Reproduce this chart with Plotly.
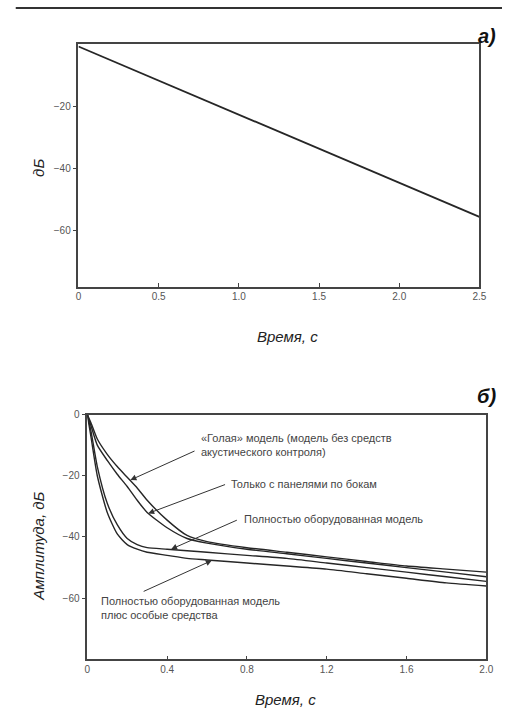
import plotly.graph_objects as go

# ---- data ----
t_a = [0.0, 2.5]
db_a = [-0.5, -55.5]
xticks_a = [0, 0.5, 1.0, 1.5, 2.0, 2.5]
xticklabels_a = ["0", "0.5", "1.0", "1.5", "2.0", "2.5"]
yticks_a = [-20, -40, -60]

t_b = [0, 0.02, 0.05, 0.1, 0.15, 0.2, 0.25, 0.3, 0.4, 0.5, 0.6, 0.8, 1.0, 1.2, 1.4, 1.6, 1.8, 2.0]
bare = [0, -3, -8, -13, -17, -20.5, -24, -28, -34.5, -39.5, -41.5, -43.5, -45, -46.5, -48, -49.5, -50.5, -51.5]
side_panels = [0, -4, -10, -15, -19.5, -23.5, -28, -32, -37, -40.5, -42, -44, -45.5, -47, -48.5, -50, -51.5, -53]
fully = [0, -6, -17, -29, -36, -40.5, -42.5, -43.5, -44, -44.5, -45, -46, -47, -48.5, -50, -51.5, -53, -54.5]
fully_plus = [0, -8, -20, -32, -39, -42.5, -44, -45, -46, -47, -47.5, -48.5, -49.5, -50.5, -52, -53.5, -55, -56]
xticks_b = [0, 0.4, 0.8, 1.2, 1.6, 2.0]
xticklabels_b = ["0", "0.4", "0.8", "1.2", "1.6", "2.0"]
yticks_b = [0, -20, -40, -60]

labels_b = [
    "«Голая» модель (модель без средств<br>акустического контроля)",
    "Только с панелями по бокам",
    "Полностью оборудованная модель",
    "Полностью оборудованная модель<br>плюс особые средства",
]
# arrow head (on curve), arrow tail, text anchor (left, middle) in data units
arrow_heads = [(0.216, -21.4), (0.305, -32.3), (0.42, -44.0), (0.624, -47.7)]
arrow_tails = [(0.545, -11.7), (0.698, -22.7), (0.757, -34.3), (0.275, -58.0)]
text_pos = [(0.56, -10.0), (0.71, -22.6), (0.775, -34.0), (0.06, -63.3)]

W, H = 509, 709
LINE = "#262626"
TICKC = "#555555"
FONT = "Liberation Sans Narrow, Arial Narrow, Liberation Sans, Arial, sans-serif"

fig = go.Figure()
fig.add_trace(go.Scatter(x=t_a, y=db_a, mode="lines", line=dict(color=LINE, width=1.8),
                         xaxis="x", yaxis="y", showlegend=False))
for ys in (bare, side_panels, fully, fully_plus):
    fig.add_trace(go.Scatter(x=t_b, y=ys, mode="lines", line=dict(color=LINE, width=1.4, shape="spline", smoothing=0.6),
                             xaxis="x2", yaxis="y2", showlegend=False))

def px(xp):
    return xp / W

def py(yp):
    return 1 - yp / H

axis_common = dict(showline=True, linecolor="#444444", linewidth=1.5, mirror=True,
                   showgrid=False, zeroline=False,
                   tickfont=dict(family="Liberation Sans, Arial, sans-serif", size=10, color=TICKC),
                   tickcolor="#444444", ticklen=4)

fig.update_layout(
    width=W, height=H, margin=dict(l=0, r=0, t=0, b=0),
    paper_bgcolor="white", plot_bgcolor="white",
    xaxis=dict(domain=[px(77), px(486)], range=[0, 2.5], tickvals=xticks_a, ticktext=xticklabels_a,
               ticks="inside", anchor="y", **axis_common),
    yaxis=dict(domain=[py(283), py(38)], range=[-78, 0.4], tickvals=yticks_a,
               ticks="outside", anchor="x", **axis_common),
    xaxis2=dict(domain=[px(86), px(493)], range=[0, 2.0], tickvals=xticks_b, ticktext=xticklabels_b,
                ticks="inside", anchor="y2", **axis_common),
    yaxis2=dict(domain=[py(659), py(412)], range=[-80, 0], tickvals=yticks_b,
                ticks="outside", anchor="x2", **axis_common),
    shapes=[dict(type="line", xref="paper", yref="paper", x0=px(13), x1=1, y0=py(2), y1=py(2),
                 line=dict(color="#333333", width=2))],
)

ann = []
# panel letters
ann.append(dict(text="<b><i>а)</i></b>", xref="paper", yref="paper", x=px(505), y=py(30),
                xanchor="right", yanchor="middle", showarrow=False,
                font=dict(family="Liberation Sans, Arial, sans-serif", size=20, color="#111111")))
ann.append(dict(text="<b><i>б)</i></b>", xref="paper", yref="paper", x=px(505), y=py(393),
                xanchor="right", yanchor="middle", showarrow=False,
                font=dict(family="Liberation Sans, Arial, sans-serif", size=20, color="#111111")))
# axis titles
title_font = dict(family=FONT, size=15, color="#222222")
ann.append(dict(text="<i>дБ</i>", xref="paper", yref="paper", x=px(36), y=py(163), textangle=-90,
                xanchor="center", yanchor="middle", showarrow=False, font=title_font))
ann.append(dict(text="<i>Время, с</i>", xref="paper", yref="paper", x=px(290), y=py(333),
                xanchor="center", yanchor="middle", showarrow=False, font=title_font))
ann.append(dict(text="<i>Амплитуда, дБ</i>", xref="paper", yref="paper", x=px(36), y=py(545), textangle=-90,
                xanchor="center", yanchor="middle", showarrow=False, font=title_font))
ann.append(dict(text="<i>Время, с</i>", xref="paper", yref="paper", x=px(288), y=py(699),
                xanchor="center", yanchor="middle", showarrow=False, font=title_font))

for lab, (hx, hy), (tx, ty), (lx, ly) in zip(labels_b, arrow_heads, arrow_tails, text_pos):
    ann.append(dict(text="", x=hx, y=hy, ax=tx, ay=ty, xref="x2", yref="y2", axref="x2", ayref="y2",
                    showarrow=True, arrowhead=2, arrowsize=1.2, arrowwidth=1, arrowcolor="#333333"))
    ann.append(dict(text=lab, x=lx, y=ly, xref="x2", yref="y2", xanchor="left", yanchor="middle",
                    align="left", showarrow=False,
                    font=dict(family=FONT, size=11, color="#444444")))

fig.update_layout(annotations=ann)
fig.write_html("out.html")
